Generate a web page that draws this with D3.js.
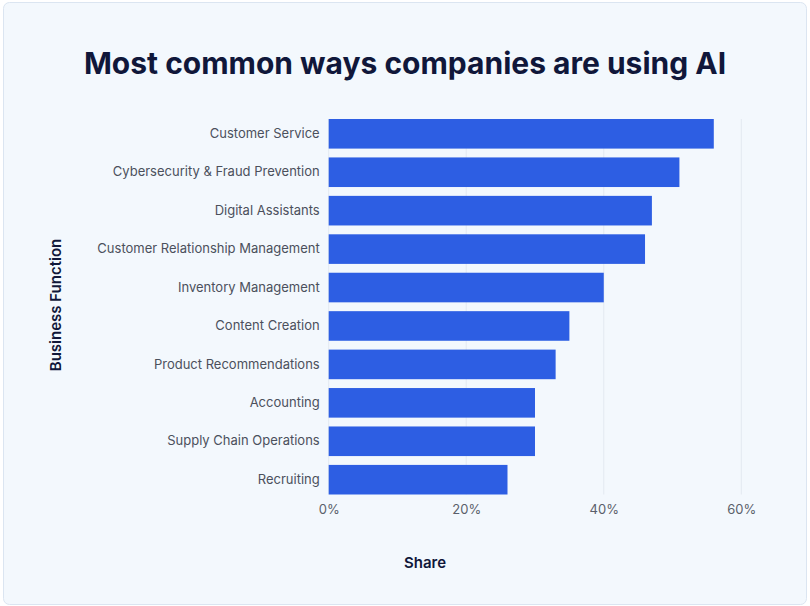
<!DOCTYPE html>
<html><head><meta charset="utf-8">
<script src="https://cdn.jsdelivr.net/npm/d3@7"></script>
<style>
html,body{margin:0;padding:0;background:#ffffff;}
svg{display:block;font-family:Inter,"Noto Sans",sans-serif;}
</style></head>
<body>
<svg id="chart" width="810" height="606"></svg>
<script>
const categories = ["Customer Service","Cybersecurity & Fraud Prevention","Digital Assistants","Customer Relationship Management","Inventory Management","Content Creation","Product Recommendations","Accounting","Supply Chain Operations","Recruiting"];
const shares = [56, 51, 47, 46, 40, 35, 33, 30, 30, 26];
const tickValues = [0, 20, 40, 60];
const title = "Most common ways companies are using AI";
const xTitle = "Share";
const yTitle = "Business Function";

const svg = d3.select("#chart");
svg.append("rect").attr("x",3.5).attr("y",2.5).attr("width",803).attr("height",602)
  .attr("rx",6).attr("fill","#f3f8fd").attr("stroke","#dbe5f1");

const x = d3.scaleLinear().domain([0,60]).range([328.7,741.3]);
const y = d3.scaleBand().domain(categories).range([119,494.5]).paddingInner(0.23).paddingOuter(0);

// grid
svg.append("g").selectAll("line").data(tickValues).join("line")
  .attr("x1",d=>x(d)).attr("x2",d=>x(d)).attr("y1",119).attr("y2",494.5)
  .attr("stroke","#e3e9f1").attr("stroke-width",1);

// bars
svg.append("g").selectAll("rect").data(categories).join("rect")
  .attr("x",x(0)).attr("y",d=>y(d))
  .attr("width",(d,i)=>x(shares[i])-x(0))
  .attr("height",y.bandwidth())
  .attr("fill","#2d5ee3");

// y axis labels
const ya = svg.append("g").attr("transform",`translate(${x(0)},0)`)
  .call(d3.axisLeft(y).tickSize(0).tickPadding(9));
ya.select(".domain").remove();
ya.selectAll("text").attr("font-size",13).attr("fill","#4b505c").attr("font-family","Inter,'Noto Sans',sans-serif");

// x axis
const xa = svg.append("g").attr("transform",`translate(0,494.5)`)
  .call(d3.axisBottom(x).tickValues(tickValues).tickFormat(d=>d+"%").tickSize(0).tickPadding(10));
xa.select(".domain").remove();
xa.selectAll("text").attr("font-size",13).attr("fill","#5a5f6b").attr("font-family","Inter,'Noto Sans',sans-serif");

// titles
svg.append("text").attr("x",405).attr("y",74).attr("text-anchor","middle")
  .attr("font-size",30).attr("font-weight",700).attr("fill","#10173a").text(title);
svg.append("text").attr("x",425).attr("y",568).attr("text-anchor","middle")
  .attr("font-size",15).attr("font-weight",600).attr("fill","#10173a").text(xTitle);
svg.append("text").attr("transform","translate(61,305) rotate(-90)").attr("text-anchor","middle")
  .attr("font-size",15).attr("font-weight",600).attr("fill","#10173a").text(yTitle);
</script>
</body></html>
